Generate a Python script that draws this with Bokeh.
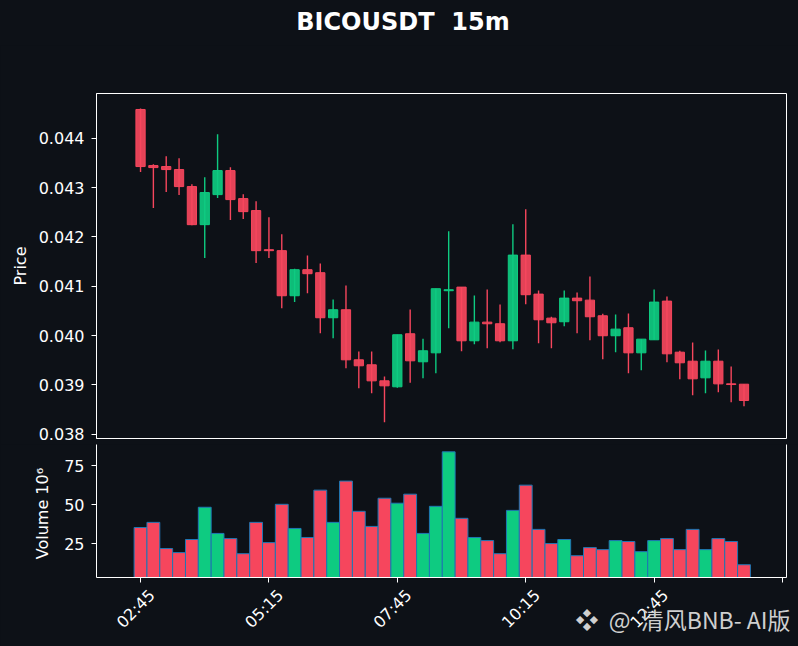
import math
from bokeh.plotting import figure
from bokeh.layouts import column
from bokeh.models import (ColumnDataSource, Range1d, FixedTicker, PrintfTickFormatter,
                          LinearAxis, Title, Div)
from bokeh.embed import file_html
from bokeh.resources import INLINE

BG = "#0d1117"
UP = "#0ECB81"
DOWN = "#F6465D"
FG = "white"
FONT = "DejaVu Sans"

title_text = "BICOUSDT  15m"

times = ["02:45", "03:00", "03:15", "03:30", "03:45", "04:00", "04:15", "04:30", "04:45", "05:00",
         "05:15", "05:30", "05:45", "06:00", "06:15", "06:30", "06:45", "07:00", "07:15", "07:30",
         "07:45", "08:00", "08:15", "08:30", "08:45", "09:00", "09:15", "09:30", "09:45", "10:00",
         "10:15", "10:30", "10:45", "11:00", "11:15", "11:30", "11:45", "12:00", "12:15", "12:30",
         "12:45", "13:00", "13:15", "13:30", "13:45", "14:00", "14:15", "14:30"]

opens = [0.044583, 0.043446, 0.043426, 0.043365, 0.043020, 0.042248, 0.042857, 0.043344, 0.042776, 0.042533,
         0.041741, 0.041721, 0.040807, 0.041335, 0.041274, 0.040361, 0.040523, 0.039508, 0.039407, 0.039082,
         0.038961, 0.040036, 0.039468, 0.039650, 0.040909, 0.040982, 0.039894, 0.040272, 0.040239, 0.039894,
         0.041631, 0.040840, 0.040353, 0.040280, 0.040759, 0.040718, 0.040401, 0.039996, 0.040158, 0.039650,
         0.039914, 0.040698, 0.039663, 0.039480, 0.039143, 0.039480, 0.039021, 0.039014]

highs = [0.044602, 0.043472, 0.043635, 0.043594, 0.043066, 0.043208, 0.044081, 0.043411, 0.042863, 0.042721,
         0.042397, 0.042052, 0.041355, 0.041625, 0.041463, 0.040732, 0.041016, 0.039677, 0.039677, 0.039170,
         0.040016, 0.040529, 0.039935, 0.040950, 0.042112, 0.040982, 0.040814, 0.040935, 0.040631, 0.042255,
         0.042559, 0.040915, 0.040381, 0.040915, 0.040874, 0.041199, 0.040442, 0.040428, 0.040448, 0.039927,
         0.040935, 0.040793, 0.039691, 0.039860, 0.039697, 0.039717, 0.039372, 0.039014]

lows = [0.043316, 0.042585, 0.042910, 0.042849, 0.042234, 0.041571, 0.042788, 0.042342, 0.042362, 0.041469,
        0.041571, 0.040556, 0.040678, 0.040860, 0.040048, 0.039947, 0.039338, 0.038932, 0.038831, 0.038242,
        0.038940, 0.039042, 0.039135, 0.039237, 0.040150, 0.039683, 0.039825, 0.039744, 0.039866, 0.039724,
        0.040637, 0.039845, 0.039744, 0.040191, 0.040048, 0.039906, 0.039521, 0.039663, 0.039237, 0.039297,
        0.039914, 0.039460, 0.039115, 0.038790, 0.038831, 0.038851, 0.038648, 0.038567]

closes = [0.043426, 0.043405, 0.043365, 0.043020, 0.042248, 0.042898, 0.043344, 0.042756, 0.042512, 0.041721,
          0.041721, 0.040807, 0.041335, 0.041254, 0.040361, 0.040523, 0.039508, 0.039387, 0.039082, 0.038981,
          0.040016, 0.039488, 0.039691, 0.040950, 0.040929, 0.039894, 0.040272, 0.040239, 0.039894, 0.041631,
          0.040828, 0.040320, 0.040259, 0.040759, 0.040706, 0.040381, 0.039996, 0.040130, 0.039650, 0.039927,
          0.040678, 0.039630, 0.039448, 0.039123, 0.039480, 0.039021, 0.039007, 0.038683]

# volume in units of 10^6
volumes = [35.3, 38.6, 21.8, 19.2, 27.6, 48.3, 31.5, 28.2, 18.5, 38.6,
           25.6, 50.2, 34.7, 28.9, 59.3, 38.6, 65.1, 45.7, 36.0, 54.1,
           50.9, 56.7, 31.5, 48.9, 83.9, 41.2, 28.9, 26.9, 18.5, 46.3,
           62.5, 34.1, 25.0, 27.6, 17.2, 22.4, 21.1, 26.9, 26.3, 19.8,
           26.9, 28.2, 21.1, 34.1, 21.1, 28.2, 26.3, 11.4]

price_ticks = [0.038, 0.039, 0.040, 0.041, 0.042, 0.043, 0.044]
volume_ticks = [25, 50, 75]
time_tick_index = [0, 10, 20, 30, 40, 50]
time_tick_labels = ["02:45", "05:15", "07:45", "10:15", "12:45", ""]

watermark_text = "\u2756\u00a0 @\u00a0 清风BNB- AI版"

idx = list(range(len(times)))
colors = [UP if c >= o else DOWN for o, c in zip(opens, closes)]
src = ColumnDataSource(dict(
    x=idx, t=times, o=opens, h=highs, l=lows, c=closes,
    top=[max(o, c) for o, c in zip(opens, closes)],
    bottom=[min(o, c) for o, c in zip(opens, closes)],
    vol=volumes, color=colors,
))

xr = Range1d(-3.43, 50.31)


def style_axes(p):
    p.background_fill_color = BG
    p.border_fill_color = BG
    p.grid.visible = False
    for ax in p.yaxis:
        ax.axis_line_color = FG
        ax.major_tick_line_color = FG
        ax.major_tick_out = 5
        ax.major_tick_in = 0
        ax.minor_tick_line_color = None
        ax.major_label_text_color = FG
        ax.major_label_text_font = FONT
        ax.major_label_text_font_size = "16px"
        ax.axis_label_text_color = FG
        ax.axis_label_text_font = FONT
        ax.axis_label_text_font_size = "16px"
        ax.axis_label_text_font_style = "normal"
        ax.major_label_standoff = 7


# ---------------- title ----------------
title_div = Div(text=title_text, width=798, height=45, margin=0,
                styles={"color": FG, "font-family": FONT, "font-size": "24px",
                        "font-weight": "bold", "text-align": "center", "white-space": "pre",
                        "line-height": "44px", "padding-left": "8px", "width": "798px",
                        "box-sizing": "border-box"})

# ---------------- price panel ----------------
p1 = figure(width=798, height=399, x_range=xr, y_range=Range1d(0.037913, 0.044907),
            output_backend="svg", toolbar_location=None,
            min_border_left=96, min_border_right=12, min_border_top=48, min_border_bottom=6)
style_axes(p1)
p1.outline_line_color = FG
p1.outline_line_width = 1
p1.xaxis.visible = False
p1.yaxis.ticker = FixedTicker(ticks=price_ticks)
p1.yaxis.formatter = PrintfTickFormatter(format="%.3f")
p1.yaxis.axis_label = "Price"
p1.yaxis.axis_label_standoff = 6

p1.segment(x0="x", y0="h", x1="x", y1="l", source=src, line_color="color", line_width=1.4)
p1.vbar(x="x", width=0.72, top="top", bottom="bottom", source=src,
        fill_color="color", fill_alpha=0.92, line_color="color", line_width=1)

# ---------------- volume panel ----------------
p2 = figure(width=798, height=202, x_range=xr, y_range=Range1d(3.2, 88.6),
            output_backend="svg", toolbar_location=None,
            min_border_left=96, min_border_right=12, min_border_top=0, min_border_bottom=69)
style_axes(p2)
p2.outline_line_color = None
p2.yaxis.ticker = FixedTicker(ticks=volume_ticks)
p2.yaxis.axis_label = "Volume  10\u2076"
p2.yaxis.axis_label_standoff = 9

right_spine = LinearAxis(ticker=FixedTicker(ticks=[]), axis_line_color=FG,
                         major_tick_line_color=None, minor_tick_line_color=None)
p2.add_layout(right_spine, "right")

xa = p2.xaxis[0]
label_pos = [i + 0.9 for i, t in zip(time_tick_index, time_tick_labels) if t]
xa.ticker = FixedTicker(ticks=label_pos, minor_ticks=time_tick_index)
xa.major_label_overrides = {i + 0.9: t for i, t in zip(time_tick_index, time_tick_labels) if t}
xa.major_label_orientation = math.pi / 4
xa.major_label_text_color = FG
xa.major_label_text_font = FONT
xa.major_label_text_font_size = "16px"
xa.major_label_standoff = 10
xa.axis_line_color = FG
xa.major_tick_line_color = None
xa.major_tick_out = 5
xa.major_tick_in = 0
xa.minor_tick_line_color = FG
xa.minor_tick_out = 5
xa.minor_tick_in = 0

p2.vbar(x="x", width=1.0, top="vol", bottom=0, source=src,
        fill_color="color", line_color="#1f77b4", line_width=1)

wm = Title(text=watermark_text, align="right", offset=-4, vertical_align="top", standoff=-80,
           text_color="#cfcfcf", text_font="Noto Sans CJK SC", text_font_size="23px",
           text_font_style="normal")
p2.add_layout(wm, "below")

layout = column(title_div, p1, p2, spacing=0, background=BG)

html = file_html(layout, INLINE)
html = html.replace("</head>", "<style>html,body{background-color:%s;}</style></head>" % BG, 1)
open("out.html", "w").write(html)
